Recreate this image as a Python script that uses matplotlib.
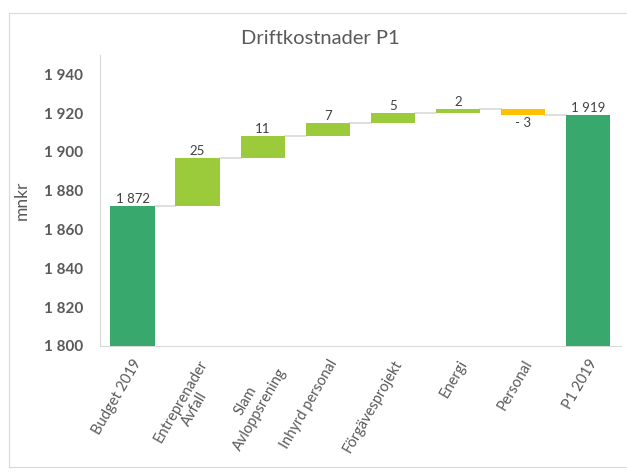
import matplotlib.pyplot as plt
from matplotlib.patches import Rectangle

plt.rcParams['font.family'] = ['Lato', 'DejaVu Sans']

categories = ['Budget 2019', 'Entreprenader\nAvfall', 'Slam\nAvloppsrening', 'Inhyrd personal',
              'Förgävesprojekt', 'Energi', 'Personal', 'P1 2019']
changes = [1872, 25, 11, 7, 5, 2, -3, 1919]
is_total = [True, False, False, False, False, False, False, True]
labels = ['1 872', '25', '11', '7', '5', '2', '- 3', '1 919']
yticks = [1800, 1820, 1840, 1860, 1880, 1900, 1920, 1940]

c_total = '#38A86C'
c_up = '#9BCB3B'
c_down = '#FFC000'
grey = '#595959'

fig = plt.figure(figsize=(6.27, 4.72), dpi=100)
ax = fig.add_axes([100 / 627, 1 - 346 / 472, 520.5 / 627, 291 / 472])

# outer chart frame like the Excel chart area
fig.patches.append(Rectangle((9 / 627, 5 / 472), 1.2, 454 / 472, transform=fig.transFigure,
                             fill=False, edgecolor='#D9D9D9', linewidth=0.8))

base = 1800
running = 0
tops = []
w = 0.68
for i, (v, tot) in enumerate(zip(changes, is_total)):
    if tot:
        bottom, height, col = base, v - base, c_total
        running = v
        top = v
    else:
        start = running
        running = running + v
        bottom, height = min(start, running), abs(v)
        col = c_up if v > 0 else c_down
        top = running
    ax.bar(i, height, bottom=bottom, width=w, color=col, zorder=3)
    tops.append(top)
    if not tot and v < 0:
        ax.text(i, bottom - 1.2, labels[i], ha='center', va='top', fontsize=9.5, color='#404040')
    else:
        ax.text(i, bottom + height + 0.6, labels[i], ha='center', va='bottom', fontsize=9.5, color='#404040')

# connector lines between bars
for i in range(len(changes) - 1):
    ax.plot([i + w / 2, i + 1 - w / 2], [tops[i], tops[i]], color='#D9D9D9', lw=1.2, zorder=2)

ax.set_xlim(-0.5, len(categories) - 0.5)
ax.set_ylim(1800, 1950)
ax.set_yticks(yticks)
ax.set_yticklabels([f'{t // 1000} {t % 1000:03d}' for t in yticks], fontsize=11,
                   fontweight='bold', color=grey)
ax.set_xticks(range(len(categories)))
ax.set_xticklabels(categories, rotation=60, ha='right', rotation_mode='anchor',
                   fontsize=10.5, color=grey, multialignment='center', linespacing=1.25)
ax.tick_params(length=0, pad=8)
ax.tick_params(axis='y', pad=12)

for s in ['top', 'right']:
    ax.spines[s].set_visible(False)
ax.spines['left'].set_color('#D9D9D9')
ax.spines['bottom'].set_color('#D9D9D9')

ax.set_ylabel('mnkr', fontsize=12.5, color=grey, labelpad=10)
fig.text(320 / 627, 1 - 38 / 472, 'Driftkostnader P1', ha='center', va='center', fontsize=14.5, color=grey)

fig.savefig('out.png', dpi=100)
